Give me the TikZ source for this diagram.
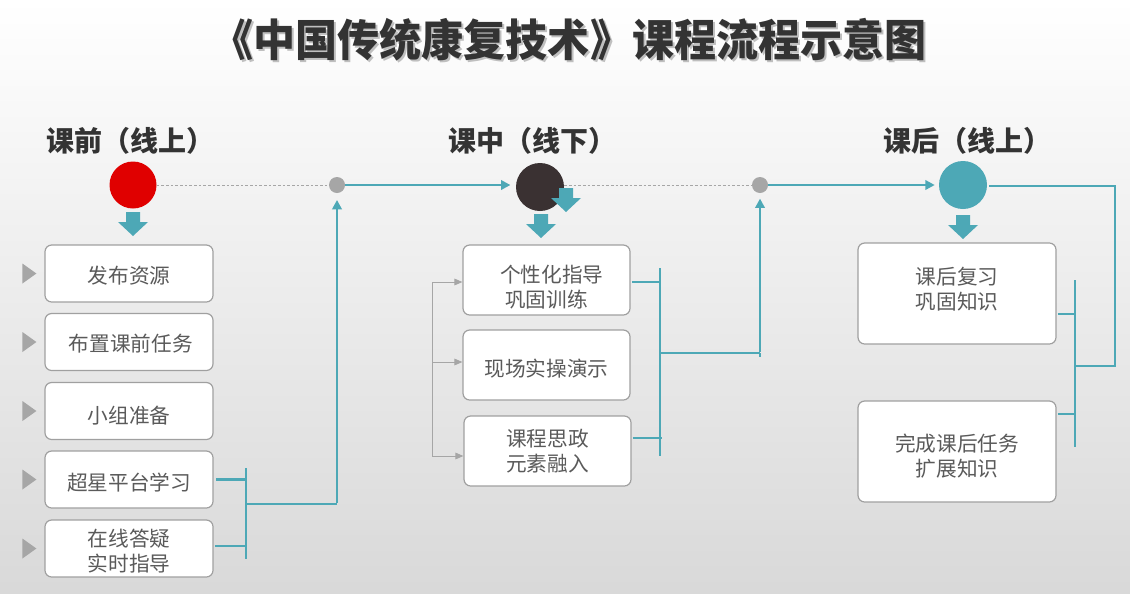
\documentclass[tikz,border=0pt]{standalone}
\usepackage{fontspec}
\newfontfamily\cjk{Noto Sans CJK SC}
\usetikzlibrary{arrows.meta}
\definecolor{tealc}{HTML}{4DA8B6}
\definecolor{redc}{HTML}{E00000}
\definecolor{darkc}{HTML}{3A3132}
\definecolor{dotgray}{HTML}{A6A6A6}
\definecolor{boxline}{HTML}{A0A0A0}
\definecolor{txtgray}{HTML}{5A5A5A}
\definecolor{titlec}{HTML}{333333}
\newcommand\bx[2]{\raisebox{#1}[0pt][0pt]{\begin{tabular}{@{}c@{}}#2\end{tabular}}}
\begin{document}
\begin{tikzpicture}[x=0.75pt,y=-0.75pt,
  box/.style={draw=boxline,line width=0.9pt,fill=white,rounded corners=5pt,
    text=txtgray,font=\cjk\fontsize{15.5}{18.5}\selectfont,align=center,inner sep=0pt},
  lbox/.style={box,minimum width=168*0.75pt,minimum height=57*0.75pt},
  mbox/.style={box,minimum width=167*0.75pt,minimum height=70*0.75pt},
  rbox/.style={box,minimum width=198*0.75pt,minimum height=101*0.75pt},
  tl/.style={draw=tealc,line width=2.2pt},
  tarrow/.style={tl,-{Triangle[length=7pt,width=7pt]}},
  garrow/.style={draw=dotgray,line width=0.7pt,-{Triangle[length=6pt,width=5pt]}},
  dashgray/.style={draw=dotgray,line width=0.6pt,dash pattern=on 2pt off 1.5pt},
  header/.style={text=titlec,font=\cjk\bfseries\fontsize{21}{24}\selectfont,inner sep=0pt},
  bigdot/.style={circle,inner sep=0pt,minimum size=48*0.75pt},
  smalldot/.style={circle,fill=dotgray,inner sep=0pt,minimum size=16*0.75pt},
  downarr/.pic={\fill[tealc] (-7,-12)--(7,-12)--(7,-2)--(15,-2)--(0,12)--(-15,-2)--(-7,-2)--cycle;}
]
\useasboundingbox (0,0) rectangle (1130,593);
\shade[top color=white,middle color=white!96!black,bottom color=white!85!black] (0,0) rectangle (1130,593);

% title
\node[text=black!25,font=\cjk\bfseries\fontsize{33}{36}\selectfont,inner sep=0pt] at (571,42) {\scalebox{0.955}[1.0]{《中国传统康复技术》课程流程示意图}};
\node[text=titlec,font=\cjk\bfseries\fontsize{33}{36}\selectfont,inner sep=0pt] (title) at (569,40) {\scalebox{0.955}[1.0]{《中国传统康复技术》课程流程示意图}};

% headers
\node[header] (h1) at (130,141) {课前（线上）};
\node[header] (h2) at (532,141) {课中（线下）};
\node[header] (h3) at (967,141) {课后（线上）};

% circles
\node[bigdot,fill=redc,minimum size=47*0.75pt] (c1) at (133,185) {};
\node[bigdot,fill=darkc] (c2) at (540,187) {};
\node[bigdot,fill=tealc] (c3) at (963,185) {};
\node[smalldot] (g1) at (337,185) {};
\node[smalldot] (g2) at (760,185) {};

\draw[dashgray] (c1.east) -- (g1.west);
\draw[dashgray] (c2.east |- g2) -- (g2.west);
\draw[tarrow] (g1.east) -- ([xshift=-4pt]c2.west |- g1);
\draw[tarrow] (g2.east) -- ([xshift=-3pt]c3.west);

% block arrows
\pic at (133,224) {downarr};
\pic at (541,226) {downarr};
\pic at (566,200) {downarr};
\pic at (963,227) {downarr};

% left boxes
\node[lbox] (b1) at (129,273.5) {\bx{-7.2pt}{发布资源}};
\node[lbox] (b2) at (129,342) {\bx{-6.85pt}{\,布置课前任务}};
\node[lbox] (b3) at (129,411) {\bx{-9.1pt}{小组准备}};
\node[lbox] (b4) at (129,479.5) {\bx{-8.35pt}{超星平台学习}};
\node[lbox] (b5) at (129,548.5) {\bx{-7.6pt}{在线答疑\\实时指导}};
\foreach \n in {b1,b2,b3,b4,b5}{
  \fill[dotgray] ([xshift=-22*0.75pt,yshift=7.5pt]\n.west) -- ([xshift=-8*0.75pt]\n.west) -- ([xshift=-22*0.75pt,yshift=-7.5pt]\n.west) -- cycle;
}

% left bracket
\coordinate (lbar) at (246,468);
\coordinate (lbarb) at (246,559);
\coordinate (lj) at (246,504);
\coordinate (lup) at (337,504);
\draw[tl] (lbar) -- (lbarb);
\draw[tl] ([xshift=2pt]b4.east) -- (b4.east -| lbar);
\draw[tl] ([xshift=1pt]b5.east |- 0,546) -- (lbar |- 0,546);
\draw[tl] (lj) -- (lup);
\draw[tarrow] ([yshift=0.8pt]lup) -- ([yshift=-5pt]g1.south);

% middle boxes
\node[mbox] (m1) at (546.5,280) {\bx{-11.35pt}{\,\,\,个性化指导\\巩固训练}};
\node[mbox] (m2) at (546.5,365) {\bx{-8.7pt}{现场实操演示}};
\node[mbox] (m3) at (547.5,451) {\bx{-5.7pt}{课程思政\\元素融入}};

% gray arrows
\coordinate (gv1) at (432,282);
\coordinate (gv2) at (432,456);
\draw[draw=dotgray,line width=0.7pt] (gv1) -- (gv2);
\draw[garrow] (gv1) -- (m1.west |- gv1);
\draw[garrow] (432,362) -- (m2.west |- 0,362);
\draw[garrow] (gv2) -- (m3.west |- gv2);

% middle bracket
\coordinate (mbar) at (660,268);
\coordinate (mbarb) at (660,456);
\coordinate (mj) at (660,353);
\coordinate (mup) at (760,353);
\draw[tl] (mbar) -- (mbarb);
\draw[tl] ([xshift=1pt]m1.east |- 0,282) -- (mbar |- 0,282);
\draw[tl] ([xshift=1pt]m3.east |- 0,438) -- (662,438);
\draw[tl] (mj) -- (mup);
\draw[tl] (mup) -- (760,357);
\draw[tarrow] ([yshift=0.8pt]mup) -- ([yshift=-4pt]g2.south);

% right boxes
\node[rbox] (r1) at (957,293.5) {\bx{-2.35pt}{课后复习\\巩固知识}};
\node[rbox] (r2) at (957,451.5) {\bx{-9.1pt}{完成课后任务\\扩展知识}};

% right bracket
\coordinate (rbar) at (1075,280);
\coordinate (rbarb) at (1075,447);
\coordinate (rj) at (1075,366);
\coordinate (rc) at (1115,366);
\draw[tl] (rbar) -- (rbarb);
\draw[tl] ([xshift=1pt]r1.east |- 0,314) -- (rbar |- 0,314);
\draw[tl] ([xshift=1pt]r2.east |- 0,414) -- (rbar |- 0,414);
\draw[tl] (rj) -- (rc) -- (1115,186) -- ([xshift=1pt]c3.east |- 0,186);
\end{tikzpicture}
\end{document}
